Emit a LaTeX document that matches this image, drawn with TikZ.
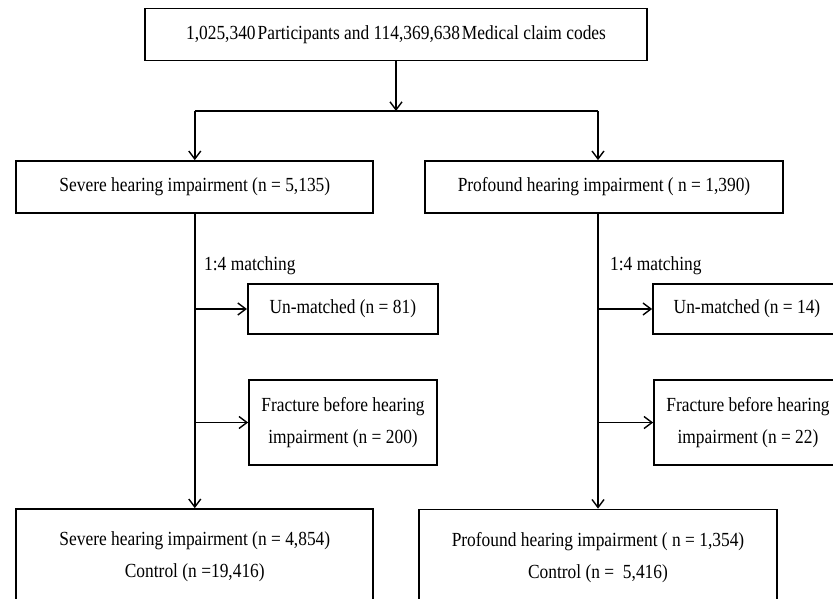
\documentclass[tikz,border=0pt]{standalone}
\usepackage{fontspec}
\setmainfont{Liberation Serif}[FakeStretch=0.87]
\usetikzlibrary{arrows.meta}

\tikzset{
  box/.style={draw, line width=1.7pt, inner sep=0pt, align=center},
  link/.style={line width=1.4pt},
  arrow/.style={link, -{Straight Barb[length=8pt, width=12pt, line width=1.4pt]}}
}

\begin{document}
\begin{tikzpicture}[x=1pt, y=-1pt, font=\fontsize{20}{32}\selectfont]
            \useasboundingbox (0,0) rectangle (833,598);
            \clip (0,0) rectangle (833,598);

            % Define boxes
            \node[box, minimum width=502pt, minimum height=52pt] (total) at (396, 34.5) {1,025,340\hspace{2pt}Participants and 114,369,638\hspace{2pt}Medical claim codes};
            \node[box, minimum width=357pt, minimum height=52pt] (severe) at (194.8, 187) {Severe hearing impairment (n = 5,135)};
            \node[box, minimum width=358pt, minimum height=52pt] (profound) at (604, 187) {Profound hearing impairment ( n = 1,390)};

            \node[box, minimum width=190pt, minimum height=50pt] (unmatchA) at (342.8, 309) {Un-matched (n = 81)};
            \node[box, minimum width=188pt, minimum height=85pt] (fractA) at (343, 422.5) {Fracture before hearing\\impairment (n = 200)};
            \node[box, minimum width=188pt, minimum height=50pt] (unmatchB) at (747, 309) {Un-matched (n = 14)};
            \node[box, minimum width=188pt, minimum height=85pt] (fractB) at (748, 422.5) {Fracture before hearing\\impairment (n = 22)};

            \node[box, minimum width=357pt, minimum height=96pt] (severeM) at (194.8, 557) {Severe hearing impairment (n = 4,854)\\Control (n =19,416)};
            \node[box, minimum width=358pt, minimum height=96pt] (profoundM) at (598, 557.5) {Profound hearing impairment ( n = 1,354)\\Control (n =\ \ 5,416)};

            % Matching labels
            \node[anchor=west, inner sep=0pt] (matchA) at (204, 266) {1:4 matching};
            \node[anchor=west, inner sep=0pt] (matchB) at (610, 266) {1:4 matching};

            % Draw connectors
            \coordinate (split) at (396, 111);
            \draw[arrow] (total) -- (split);
            \draw[link] (severe.north |- split) -- (profoundM.north |- split);
            \draw[arrow] (severe.north |- split) -- (severe.north);
            \draw[arrow] (profoundM.north |- split) -- (profoundM.north |- profound.north);

            \draw[arrow] (severe.south) -- (severeM.north);
            \draw[arrow] (unmatchA.west -| severe.south) -- (unmatchA.west);
            \draw[arrow] (fractA.west -| severe.south) -- (fractA.west);

            \draw[arrow] (profoundM.north |- profound.south) -- (profoundM.north);
            \draw[arrow] (unmatchB.west -| profoundM.north) -- (unmatchB.west);
            \draw[arrow] (fractB.west -| profoundM.north) -- (fractB.west);
        \end{tikzpicture}
\end{document}
